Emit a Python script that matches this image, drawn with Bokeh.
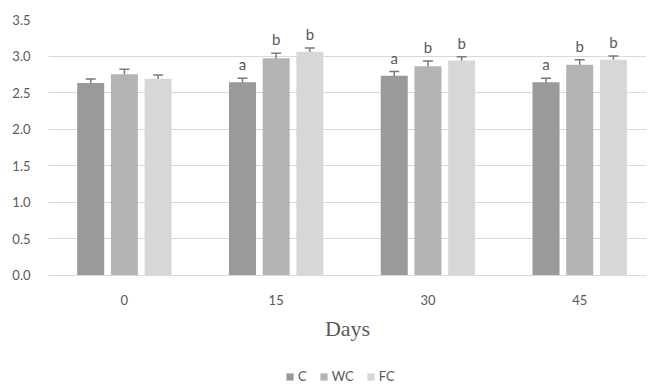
from bokeh.plotting import figure
from bokeh.models import ColumnDataSource, Whisker, TeeHead, Legend, LegendItem, FixedTicker, Range1d, NumeralTickFormatter
from bokeh.core.properties import value
from bokeh.embed import file_html
from bokeh.resources import INLINE

days = ["0", "15", "30", "45"]
series = ["C", "WC", "FC"]
colors = ["#9a9a9a", "#b4b4b4", "#d7d7d7"]
vals_C = [2.63, 2.64, 2.73, 2.64]
vals_WC = [2.75, 2.97, 2.86, 2.88]
vals_FC = [2.69, 3.06, 2.94, 2.95]
err_C = [0.055, 0.057, 0.057, 0.057]
err_WC = [0.07, 0.07, 0.073, 0.068]
err_FC = [0.05, 0.05, 0.05, 0.05]
letters_C = ["", "a", "a", "a"]
letters_WC = ["", "b", "b", "b"]
letters_FC = ["", "b", "b", "b"]
y_ticks = [0.0, 0.5, 1.0, 1.5, 2.0, 2.5, 3.0, 3.5]

vals = [vals_C, vals_WC, vals_FC]
errs = [err_C, err_WC, err_FC]
lets = [letters_C, letters_WC, letters_FC]
offsets = [-0.222, 0.0, 0.222]
centers = [i + 0.5 for i in range(len(days))]

FONT = "Lato"
GRAY = "#595959"

p = figure(width=648, height=387, output_backend="svg", toolbar_location=None,
           x_range=Range1d(0.0, 3.94), y_range=Range1d(-1.534, 3.5),
           min_border_left=48, min_border_right=2, min_border_top=19, min_border_bottom=0)
p.outline_line_color = None
p.background_fill_color = "white"
p.border_fill_color = "white"

renderers = []
for k in range(3):
    xs = [c + offsets[k] for c in centers]
    src = ColumnDataSource(dict(x=xs, top=vals[k],
                                upper=[v + e for v, e in zip(vals[k], errs[k])],
                                lower=[v - e for v, e in zip(vals[k], errs[k])],
                                lab=lets[k]))
    r = p.vbar(x="x", top="top", width=0.178, source=src, fill_color=colors[k], line_color=None)
    renderers.append(r)
    w = Whisker(base="x", upper="upper", lower="lower", source=src,
                line_color="#7a7a7a", line_width=1.5,
                upper_head=TeeHead(size=10, line_color="#7a7a7a", line_width=1.5),
                lower_head=TeeHead(size=10, line_color="#7a7a7a", line_width=1.5))
    p.add_layout(w)
    p.text(x="x", y="upper", text="lab", source=src, text_align="center", text_baseline="bottom",
           y_offset=-5, text_font=value(FONT), text_font_size="15px", text_color=GRAY)

p.xaxis.fixed_location = 0
p.xaxis.ticker = FixedTicker(ticks=centers)
p.xaxis.major_label_overrides = {c: d for c, d in zip(centers, days)}
p.xaxis.axis_line_color = "#d9d9d9"
p.xaxis.major_tick_line_color = None
p.xaxis.minor_tick_line_color = None
p.xaxis.major_label_standoff = 14
p.xaxis.major_label_text_font = FONT
p.xaxis.major_label_text_font_size = "13px"
p.xaxis.major_label_text_color = GRAY
p.xaxis.axis_label = "Days"
p.xaxis.axis_label_text_font = "Liberation Serif"
p.xaxis.axis_label_text_font_size = "22px"
p.xaxis.axis_label_text_font_style = "normal"
p.xaxis.axis_label_text_color = GRAY
p.xaxis.axis_label_standoff = 7

p.yaxis.ticker = FixedTicker(ticks=y_ticks)
p.yaxis.formatter = NumeralTickFormatter(format="0.0")
p.yaxis.axis_line_color = None
p.yaxis.major_tick_line_color = None
p.yaxis.minor_tick_line_color = None
p.yaxis.major_label_text_font = FONT
p.yaxis.major_label_text_font_size = "13px"
p.yaxis.major_label_text_color = GRAY
p.yaxis.major_label_standoff = 12

p.xgrid.grid_line_color = None
p.ygrid.grid_line_color = "#d9d9d9"
p.ygrid.ticker = FixedTicker(ticks=y_ticks[1:])

legend = Legend(items=[LegendItem(label=s, renderers=[r]) for s, r in zip(series, renderers)],
                orientation="horizontal", location=(237, 3),
                label_text_font=FONT, label_text_font_size="13px", label_text_color=GRAY,
                glyph_width=9, glyph_height=9, label_standoff=4, label_width=0, spacing=12,
                border_line_color=None, background_fill_alpha=0, padding=0, margin=0)
p.add_layout(legend, "center")

open("out.html", "w").write(file_html(p, INLINE))
